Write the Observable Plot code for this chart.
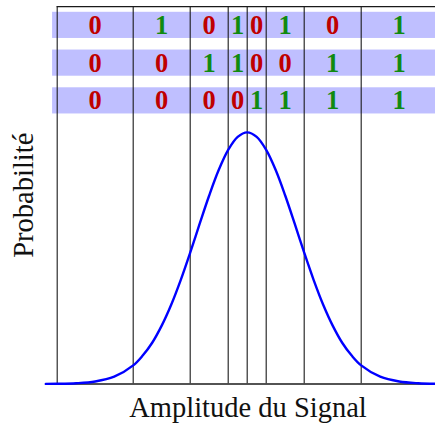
<!DOCTYPE html>
<html>
<head>
<meta charset="utf-8">
<script src="https://cdn.jsdelivr.net/npm/d3@7"></script>
<script src="https://cdn.jsdelivr.net/npm/@observablehq/plot@0.6"></script>
<style>
  html, body { margin: 0; padding: 0; background: white; overflow: hidden; }
</style>
</head>
<body>
<div id="chart"></div>
<script>
// Quantisation boundaries (amplitude units)
const boundaries = [-10, -6, -3, -1, 0, 1, 3, 6, 10];
// Bit rows (top: LSB, bottom: MSB)
const bitRow1 = [0, 1, 0, 1, 0, 1, 0, 1];
const bitRow2 = [0, 0, 1, 1, 0, 0, 1, 1];
const bitRow3 = [0, 0, 0, 0, 1, 1, 1, 1];
const rowLevels = [1.425, 1.275, 1.125];
const topLevel = 1.5;
// Probability curve (relative height)
const curveX = [-10.6, -10, -9, -8, -7, -6, -5.5, -5, -4.5, -4, -3.5, -3, -2.5, -2, -1.5, -1, -0.5, 0,
                0.5, 1, 1.5, 2, 2.5, 3, 3.5, 4, 4.5, 5, 5.5, 6, 7, 8, 9, 9.9];
const curveY = [0.0003, 0.0007, 0.003, 0.010, 0.029, 0.074, 0.113, 0.164, 0.232, 0.315, 0.413, 0.522, 0.637, 0.749, 0.850, 0.930, 0.982, 1.000,
                0.982, 0.930, 0.850, 0.749, 0.637, 0.522, 0.413, 0.315, 0.232, 0.164, 0.113, 0.074, 0.029, 0.010, 0.003, 0.0008];
const xLabel = "Amplitude du Signal";
const yLabel = "Probabilité";

const curve = curveX.map((x, i) => ({x, y: curveY[i]}));
const bitRows = [bitRow1, bitRow2, bitRow3];
const bits = [];
bitRows.forEach((row, r) => row.forEach((b, i) => bits.push({
  x: (boundaries[i] + boundaries[i + 1]) / 2,
  y: rowLevels[r],
  bit: b
})));
const bandHalf = 0.052;

const plot = Plot.plot({
  width: 435,
  height: 426,
  marginLeft: 0,
  marginRight: 0,
  marginTop: 6,
  marginBottom: 42.5,
  x: {domain: [-12.984, 9.911]},
  y: {domain: [0, topLevel]},
  axis: null,
  style: {fontFamily: "'Liberation Serif', serif", background: "white", overflow: "hidden"},
  marks: [
    Plot.rect(rowLevels, {
      x1: boundaries[0], x2: boundaries[boundaries.length - 1],
      y1: d => d - bandHalf, y2: d => d + bandHalf,
      insetLeft: -4.6, fill: "#bfbfff", clip: true
    }),
    Plot.ruleX(boundaries, {y1: 0, y2: topLevel, stroke: "#1a1a1a", strokeWidth: 1.1, clip: true}),
    Plot.ruleY([topLevel], {x1: boundaries[0], x2: boundaries[boundaries.length - 1], stroke: "#1a1a1a", strokeWidth: 1.4, clip: true}),
    Plot.ruleY([0], {x1: curveX[0], x2: curveX[curveX.length - 1], stroke: "#1a1a1a", strokeWidth: 1.4}),
    Plot.line(curve, {x: "x", y: "y", stroke: "#0000ff", strokeWidth: 2.4, curve: "catmull-rom"}),
    Plot.text(bits, {
      x: "x", y: "y", text: d => String(d.bit),
      fill: d => d.bit ? "#108a10" : "#bf0000",
      fontFamily: "'Liberation Serif', serif",
      fontWeight: "bold", fontSize: 26.5
    }),
    Plot.text([xLabel], {frameAnchor: "bottom", dx: 30, dy: 12.5, lineAnchor: "top", fontSize: 28.5, fill: "#111"}),
    Plot.text([yLabel], {frameAnchor: "left", textAnchor: "middle", dx: 23, rotate: -90, fontSize: 28.5, fill: "#111"})
  ]
});
document.getElementById("chart").appendChild(plot);
</script>
</body>
</html>
